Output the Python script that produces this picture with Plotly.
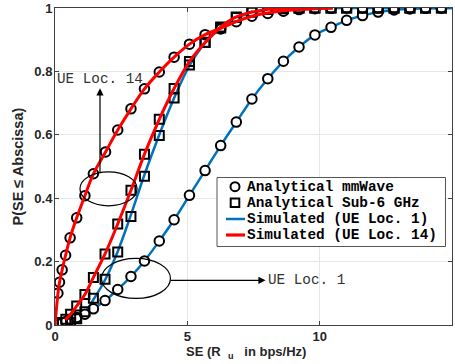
import plotly.graph_objects as go

# ---- analytical markers (x = SE in bps/Hz, y = CDF) ----
mm14_x = [0.11, 0.17, 0.27, 0.40, 0.57, 0.82, 1.13, 1.45, 1.91, 2.37, 2.87, 3.38, 3.94, 4.50, 5.08,
          5.67, 6.26, 6.85, 7.44, 8.04, 8.63, 9.22, 9.82, 10.43, 11.02, 11.62, 12.21, 12.81, 13.41, 14.0, 14.6]
mm14_y = [0.100, 0.135, 0.174, 0.220, 0.275, 0.338, 0.408, 0.477, 0.546, 0.615, 0.682, 0.745, 0.798, 0.845, 0.886,
          0.916, 0.934, 0.957, 0.974, 0.983, 0.990, 0.995, 0.998, 0.999, 1.0, 1.0, 1.0, 1.0, 1.0, 1.0, 1.0]

mm1_x = [0.13, 0.28, 0.41, 0.59, 0.82, 1.13, 1.45, 1.89, 2.37, 2.87, 3.38, 3.94, 4.50, 5.08, 5.67, 6.26,
         6.85, 7.44, 8.04, 8.63, 9.22, 9.82, 10.43, 11.02, 11.62, 12.21, 12.81, 13.41, 14.0, 14.6]
mm1_y = [0.002, 0.006, 0.011, 0.017, 0.024, 0.034, 0.051, 0.077, 0.112, 0.153, 0.202, 0.265, 0.332, 0.409, 0.487, 0.566,
         0.640, 0.713, 0.777, 0.832, 0.877, 0.915, 0.939, 0.961, 0.976, 0.987, 0.994, 0.997, 0.999, 1.0]

s6_1_x = [0.59, 0.82, 1.13, 1.45, 1.89, 2.37, 2.87, 3.38, 3.94, 4.50, 5.08, 5.67, 6.26, 6.85, 7.44, 8.04,
          8.63, 9.22, 9.82, 10.43, 11.02, 11.62, 12.21, 12.81, 13.41, 14.0, 14.6]
s6_1_y = [0.008, 0.020, 0.042, 0.084, 0.144, 0.230, 0.342, 0.469, 0.598, 0.716, 0.820, 0.892, 0.937, 0.970, 0.987, 0.995,
          0.998, 1.0, 1.0, 1.0, 1.0, 1.0, 1.0, 1.0, 1.0, 1.0, 1.0]

s6_14_x = [0.28, 0.41, 0.59, 0.82, 1.13, 1.45, 1.89, 2.37, 2.87, 3.38, 3.94, 4.50, 5.08, 5.67, 6.26, 6.85,
           7.44, 8.04, 8.63, 9.22, 9.82, 10.43, 11.02, 11.62, 12.21, 12.81, 13.41, 14.0, 14.6]
s6_14_y = [0.008, 0.018, 0.034, 0.060, 0.096, 0.150, 0.224, 0.319, 0.425, 0.539, 0.649, 0.746, 0.831, 0.891, 0.940, 0.972,
           0.987, 0.996, 0.999, 1.0, 1.0, 1.0, 1.0, 1.0, 1.0, 1.0, 1.0, 1.0, 1.0]

# ---- simulated curves ----
sim1_mm_x = [0.30, 0.59, 0.82, 1.13, 1.45, 1.89, 2.37, 2.87, 3.38, 3.94, 4.50, 5.08, 5.67, 6.26, 6.85, 7.44,
             8.04, 8.63, 9.22, 9.82, 10.43, 11.02, 11.62, 12.21, 12.81, 13.41, 14.0, 15.0]
sim1_mm_y = [0.004, 0.016, 0.024, 0.034, 0.051, 0.077, 0.112, 0.153, 0.202, 0.265, 0.332, 0.409, 0.487, 0.566, 0.640, 0.713,
             0.777, 0.832, 0.877, 0.915, 0.939, 0.961, 0.976, 0.987, 0.994, 0.997, 0.999, 1.0]
sim1_s6_x = [0.40, 0.82, 1.13, 1.45, 1.89, 2.37, 2.87, 3.38, 3.94, 4.50, 5.08, 5.67, 6.26, 6.85, 7.44, 8.04,
             8.63, 9.5, 10.5, 12.0, 15.0]
sim1_s6_y = [0.004, 0.018, 0.040, 0.080, 0.142, 0.232, 0.348, 0.474, 0.600, 0.716, 0.818, 0.890, 0.936, 0.968, 0.985, 0.994,
             0.998, 1.0, 1.0, 1.0, 1.0]
sim14_mm_x = [0.0, 0.11, 0.17, 0.27, 0.40, 0.57, 0.82, 1.13, 1.45, 1.91, 2.37, 2.87, 3.38, 3.94, 4.50, 5.08,
              5.67, 6.26, 6.85, 7.44, 8.04, 8.63, 9.22, 9.82, 10.5]
sim14_mm_y = [0.0, 0.098, 0.134, 0.174, 0.220, 0.275, 0.338, 0.408, 0.477, 0.546, 0.615, 0.682, 0.745, 0.798, 0.845, 0.886,
              0.916, 0.936, 0.957, 0.974, 0.984, 0.991, 0.995, 0.998, 1.0]
sim14_s6_x = [0.38, 0.59, 0.82, 1.13, 1.45, 1.89, 2.37, 2.87, 3.38, 3.94, 4.50, 5.08, 5.67, 6.26, 6.85, 7.44,
              8.04, 8.63, 9.22, 10.5]
sim14_s6_y = [0.016, 0.034, 0.060, 0.096, 0.150, 0.224, 0.319, 0.425, 0.539, 0.649, 0.746, 0.831, 0.891, 0.940, 0.972, 0.987,
              0.996, 0.999, 1.0, 1.0]

x_ticks = [0, 5, 10, 15]
y_ticks = [0, 0.2, 0.4, 0.6, 0.8, 1]
y_ticktext = ["0", "0.2", "0.4", "0.6", "0.8", "1"]
legend_labels = ["Analytical mmWave", "Analytical Sub-6 GHz", "Simulated (UE Loc. 1)", "Simulated (UE Loc. 14)"]
x_title = "SE (R&nbsp;&nbsp;<sub>u</sub>&nbsp;&nbsp;&nbsp;in bps/Hz)"
y_title = "P(SE \u2264 Abscissa)"

BLUE = "#0072BD"
RED = "#FF0000"
MONO = "Liberation Mono, Courier New, monospace"
SANS = "Liberation Sans, Arial, sans-serif"

W, H = 455, 364
ML, MR, MT, MB = 55, 3, 8, 39
PW, PH = W - ML - MR, H - MT - MB


def px(x):   # pixel column -> paper x
    return (x - ML) / PW


def py(y):   # pixel row -> paper y
    return (H - MB - y) / PH


fig = go.Figure()

# simulated loc 1 (blue) below markers
fig.add_trace(go.Scatter(x=sim1_mm_x, y=sim1_mm_y, mode="lines", line=dict(color=BLUE, width=2.5, shape="spline"),
                         name=legend_labels[2]))
fig.add_trace(go.Scatter(x=sim1_s6_x, y=sim1_s6_y, mode="lines", line=dict(color=BLUE, width=2.5, shape="spline"),
                         name=legend_labels[2]))

circ = dict(symbol="circle", size=9.5, color="white", line=dict(color="black", width=2))
sq = dict(symbol="square-open", size=9, color="black", line=dict(color="black", width=2))
fig.add_trace(go.Scatter(x=mm1_x, y=mm1_y, mode="markers", marker=circ, name=legend_labels[0]))
fig.add_trace(go.Scatter(x=mm14_x, y=mm14_y, mode="markers", marker=circ, name=legend_labels[0]))
fig.add_trace(go.Scatter(x=s6_1_x, y=s6_1_y, mode="markers", marker=sq, name=legend_labels[1]))
fig.add_trace(go.Scatter(x=s6_14_x, y=s6_14_y, mode="markers", marker=sq, name=legend_labels[1]))

# simulated loc 14 (red) on top
fig.add_trace(go.Scatter(x=sim14_mm_x, y=sim14_mm_y, mode="lines", line=dict(color=RED, width=3, shape="spline"),
                         name=legend_labels[3]))
fig.add_trace(go.Scatter(x=sim14_s6_x, y=sim14_s6_y, mode="lines", line=dict(color=RED, width=3, shape="spline"),
                         name=legend_labels[3]))

axis_common = dict(
    showline=True, linecolor="#404040", linewidth=1, mirror="ticks",
    ticks="inside", ticklen=4, tickcolor="#404040",
    showgrid=True, gridcolor="#E6E6E6", gridwidth=1, zeroline=False, automargin=False,
    tickfont=dict(family=SANS, size=13, color="#262626", weight="bold"),
)

fig.update_layout(
    width=W, height=H,
    margin=dict(l=ML, r=MR, t=MT, b=MB),
    paper_bgcolor="white", plot_bgcolor="white",
    xaxis=dict(range=[0, 15], tickvals=x_ticks, ticktext=[str(v) for v in x_ticks], ticklabelstandoff=-1,
               **axis_common),
    yaxis=dict(range=[0, 1], tickvals=y_ticks, ticktext=y_ticktext, ticklabelstandoff=-1,
               **axis_common),
    showlegend=False,
)

# axis titles
fig.add_annotation(xref="paper", yref="paper", x=px(246), y=py(352), xanchor="center", yanchor="middle",
                   text=x_title, showarrow=False,
                   font=dict(family=SANS, size=13, color="#262626", weight="bold"))
fig.add_annotation(xref="paper", yref="paper", x=px(17), y=py(166.5), xanchor="center", yanchor="middle",
                   text=y_title, textangle=-90, showarrow=False,
                   font=dict(family=SANS, size=14.5, color="#262626", weight="bold"))

# legend box drawn in pixel positions
fig.add_shape(type="rect", xref="paper", yref="paper", x0=px(217), x1=px(445.5), y0=py(177.5), y1=py(246.5),
              line=dict(color="#555555", width=1), fillcolor="white", layer="above")
row_y = [186.7, 202.7, 219.0, 235.0]
fig.add_shape(type="circle", xref="paper", yref="paper", x0=px(230.5), x1=px(239.5), y0=py(row_y[0] + 4.5),
              y1=py(row_y[0] - 4.5), line=dict(color="black", width=2), fillcolor="white", layer="above")
fig.add_shape(type="rect", xref="paper", yref="paper", x0=px(230.7), x1=px(239.3), y0=py(row_y[1] + 4.3),
              y1=py(row_y[1] - 4.3), line=dict(color="black", width=2), fillcolor="white", layer="above")
fig.add_shape(type="line", xref="paper", yref="paper", x0=px(226), x1=px(245), y0=py(row_y[2]), y1=py(row_y[2]),
              line=dict(color=BLUE, width=2.5), layer="above")
fig.add_shape(type="line", xref="paper", yref="paper", x0=px(226), x1=px(245), y0=py(row_y[3]), y1=py(row_y[3]),
              line=dict(color=RED, width=3.2), layer="above")
for lab, ry in zip(legend_labels, row_y):
    fig.add_annotation(xref="paper", yref="paper", x=px(245), y=py(ry), xanchor="left", yanchor="middle",
                       text=lab, showarrow=False,
                       font=dict(family=MONO, size=14.4, color="black", weight="bold"))

# ellipses around the curve groups
fig.add_shape(type="circle", xref="x", yref="y", x0=0.944, x1=3.10, y0=0.376, y1=0.483,
              line=dict(color="black", width=1.2))
fig.add_shape(type="circle", xref="x", yref="y", x0=1.757, x1=4.363, y0=0.0837, y1=0.210,
              line=dict(color="black", width=1.2))

# labels with arrows pointing at them
fig.add_annotation(x=1.70, y=0.481, ax=1.70, ay=0.777, xref="x", yref="y", axref="x", ayref="y",
                   text="UE Loc. 14", showarrow=True, arrowside="start", startarrowhead=2,
                   startarrowsize=1.2, arrowwidth=1.2, arrowcolor="black", startstandoff=0,
                   font=dict(family=MONO, size=14.3, color="#333333"))
fig.add_annotation(x=4.363, y=0.141, ax=9.505, ay=0.141, xref="x", yref="y", axref="x", ayref="y",
                   text="UE Loc. 1", showarrow=True, arrowside="start", startarrowhead=2,
                   startarrowsize=1.2, arrowwidth=1.2, arrowcolor="black", startstandoff=1,
                   font=dict(family=MONO, size=14.3, color="#333333"))

fig.write_html("out.html", config={"displayModeBar": False},
               post_script="document.body.style.margin='0';")
